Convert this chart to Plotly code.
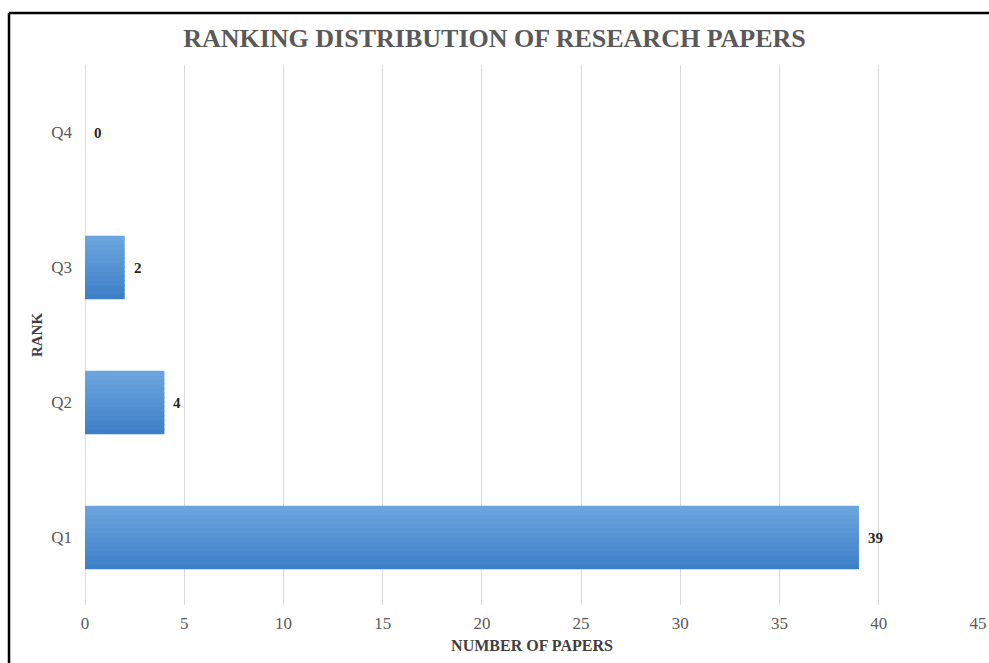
import plotly.graph_objects as go

# Ranking of published research papers by journal quartile
ranks = ["Q1", "Q2", "Q3", "Q4"]
paper_counts = [39, 4, 2, 0]
x_ticks = [0, 5, 10, 15, 20, 25, 30, 35, 40, 45]

SERIF = "Liberation Serif, Times New Roman, serif"
GREY = "#595959"

BAR_WIDTH = 0.47
N_BANDS = 14
DARK = (62, 128, 200)     # bottom edge of bar
LIGHT = (108, 165, 222)   # top edge of bar

fig = go.Figure()

# each bar is filled with a vertical gradient made of thin overlaid bands
band = BAR_WIDTH / N_BANDS
for i in range(N_BANDS):
    t = i / (N_BANDS - 1)
    r, g, b = (round(d + (l - d) * t) for d, l in zip(DARK, LIGHT))
    w = band * 1.25 if i < N_BANDS - 1 else band
    fig.add_trace(go.Bar(
        y=ranks, x=paper_counts, orientation="h",
        width=w, offset=-BAR_WIDTH / 2 + i * band,
        marker=dict(color=f"rgb({r},{g},{b})", line=dict(width=0)),
        hoverinfo="skip" if i else None,
        showlegend=False,
    ))

# value labels just past the end of each bar
for rank, count in zip(ranks, paper_counts):
    fig.add_annotation(
        x=count, y=rank, xref="x", yref="y",
        text=f"<b>{count}</b>", showarrow=False,
        xanchor="left", yanchor="middle", xshift=7,
        font=dict(family=SERIF, size=15, color="#262626"),
    )

fig.update_layout(
    width=989, height=663,
    margin=dict(l=85, r=10, t=65, b=58),
    paper_bgcolor="white", plot_bgcolor="white",
    barmode="overlay",
    title=dict(
        text="<b>RANKING DISTRIBUTION OF RESEARCH PAPERS</b>",
        x=0.5, xanchor="center", y=0.943, yanchor="middle",
        font=dict(family=SERIF, size=26, color=GREY),
    ),
    xaxis=dict(
        range=[0, 45.05], tickvals=x_ticks, automargin=False,
        showgrid=True, gridcolor="#d9d9d9", gridwidth=1,
        zeroline=False, showline=False,
        tickfont=dict(family=SERIF, size=17, color=GREY),
        ticks="", ticklabelstandoff=6,
        title=dict(text="<b>NUMBER OF PAPERS</b>", standoff=7,
                   font=dict(family=SERIF, size=16, color="#404040")),
    ),
    yaxis=dict(
        categoryorder="array", categoryarray=ranks, automargin=False,
        showgrid=False, zeroline=False,
        showline=False,
        tickfont=dict(family=SERIF, size=17, color=GREY),
        ticks="", ticklabelstandoff=12,
        title=dict(text="<b>RANK</b>", standoff=4,
                   font=dict(family=SERIF, size=15, color="#404040")),
    ),
    shapes=[
        # axis line along zero
        dict(type="line", xref="x", yref="paper", x0=0.02, x1=0.02, y0=0, y1=1,
             line=dict(color="#d9d9d9", width=1), layer="between"),
        # outer frame (top and left edges)
        dict(type="line", xref="paper", yref="paper",
             x0=(9 - 85) / 894, x1=1.2, y0=(605 - 13) / 540, y1=(605 - 13) / 540,
             line=dict(color="black", width=2.5)),
        dict(type="line", xref="paper", yref="paper",
             x0=(9 - 85) / 894, x1=(9 - 85) / 894, y0=(605 - 13) / 540, y1=-0.2,
             line=dict(color="black", width=2.5)),
    ],
)

fig.write_html("out.html")
